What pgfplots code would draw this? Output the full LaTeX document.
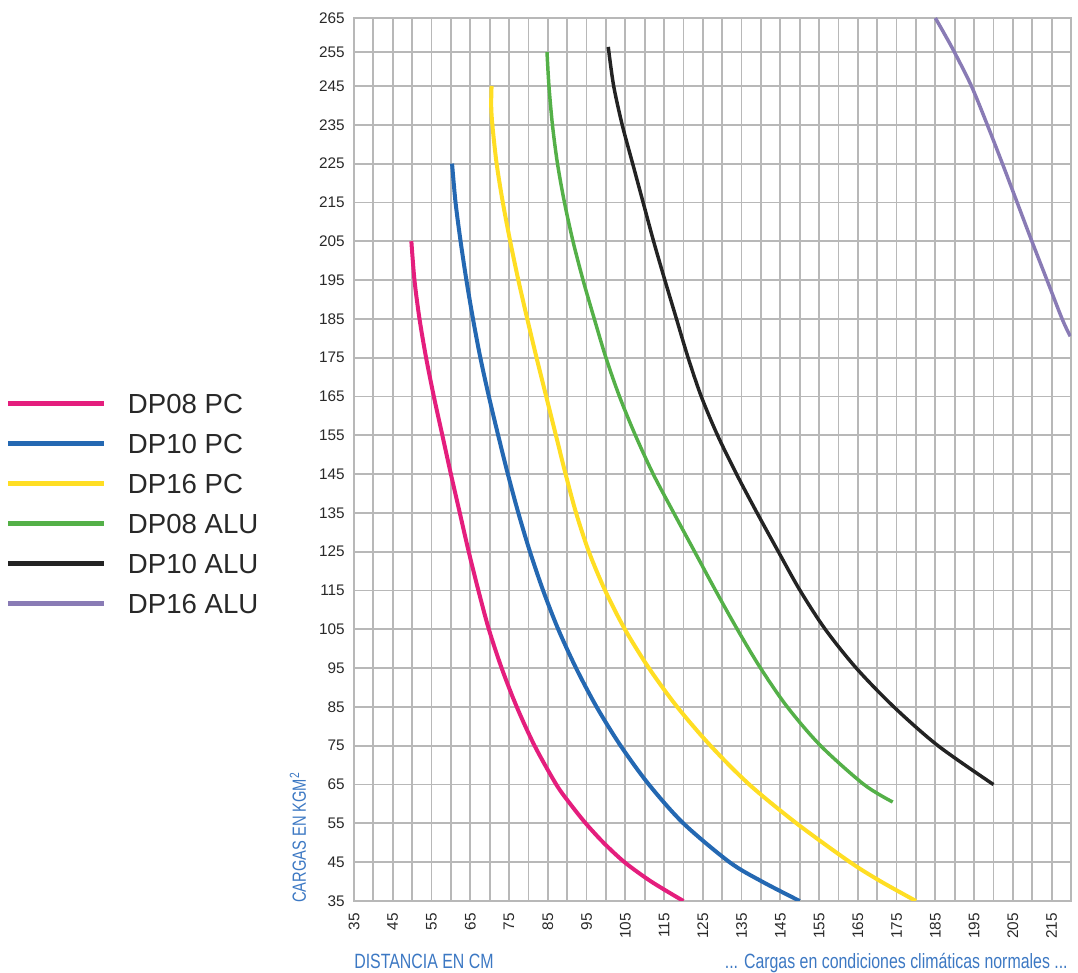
\documentclass[border=0pt]{standalone}
\usepackage{fontspec}
\setmainfont{Liberation Sans}
\newfontfamily\condfont[FakeStretch=0.77]{Liberation Sans}
\usepackage{pgfplots}
\pgfplotsset{compat=1.18}
\definecolor{cpink}{RGB}{228,30,125}
\definecolor{cblue}{RGB}{36,104,178}
\definecolor{cyellow}{RGB}{255,222,35}
\definecolor{cgreen}{RGB}{84,176,72}
\definecolor{cblack}{RGB}{35,35,35}
\definecolor{cpurple}{RGB}{137,123,181}
\definecolor{gridgray}{RGB}{184,184,184}
\definecolor{tickgray}{RGB}{40,40,40}
\definecolor{labelblue}{RGB}{60,120,195}
\begin{document}
\begin{tikzpicture}
\begin{axis}[
  at={(0,0)}, anchor=south west,
  scale only axis, width=537.75pt, height=662.25pt,
  clip mode=individual,
  xmin=35, xmax=220, ymin=35, ymax=265,
  y coord trafo/.code={\pgfmathparse{#1>245 ? 245+(#1-245)*0.876 : #1}},
  y coord inv trafo/.code={\pgfmathparse{#1>245 ? 245+(#1-245)/0.876 : #1}},
  xtick={35,45,...,215}, minor x tick num=1,
  ytick={35,45,55,65,75,85,95,105,115,125,135,145,155,165,175,185,195,205,215,225,235,245,255,265},
  yticklabels={35,45,55,65,75,85,95,105,115,125,135,145,155,165,175,185,195,205,215,225,235,245,255,265},
  xmajorgrids, xminorgrids, ymajorgrids,
  grid style={draw=gridgray, line width=1.35pt},
  minor grid style={draw=gridgray, line width=1.35pt},
  axis line style={draw=gridgray, line width=1.35pt},
  major tick length=0pt, minor tick length=0pt,
  tick style={draw=none},
  tick label style={font=\fontsize{11.5}{13}\selectfont, text=tickgray, inner sep=0pt},
  /pgf/number format/assume math mode=true,
  /pgf/number format/1000 sep={},
  xticklabel style={rotate=90, anchor=east},
  xticklabel shift=9pt, yticklabel shift=6.75pt,
  xlabel={DISTANCIA EN CM},
  xlabel style={at={(axis description cs:0,-0.0770)}, anchor=base west, inner sep=0pt, font=\condfont\fontsize{15.5}{18}\selectfont, text=labelblue},
  ylabel={CARGAS EN KGM\textsuperscript{2}},
  ylabel style={at={(axis description cs:-0.06695,-0.0023)}, anchor=base west, inner sep=0pt, font=\condfont\fontsize{14.3}{17}\selectfont, text=labelblue},
  legend style={at={(axis description cs:-0.48536,0.5753)}, anchor=north west, draw=none, fill=none, inner sep=0pt, outer sep=0pt, row sep=15pt, column sep=15.75pt, font=\fontsize{20.7}{24}\selectfont, text=tickgray, nodes={inner sep=0pt, text height=15pt, text depth=0pt}},
  legend cell align=left,
  legend image code/.code={\draw[#1, line width=3.75pt] (0pt,0pt) -- (72pt,0pt);},
]
\addplot[cpink, line width=3pt, smooth] coordinates {
(49.8,205) (50.6,195) (51.9,185) (53.6,175) (55.6,165) (57.8,155) (60.0,145) (62.3,135) (64.6,125) (67.1,115) (69.8,105) (73.1,95) (77.0,85) (81.6,75) (87.2,65) (90.8,60) (94.8,55) (99.4,50) (104.8,45) (111.7,40) (120,35)};
\addlegendentry{DP08 PC}
\addplot[cblue, line width=3pt, smooth] coordinates {
(60.3,225) (61.2,215) (62.5,205) (64.0,195) (65.7,185) (67.6,175) (69.8,165) (72.2,155) (74.7,145) (77.4,135) (80.4,125) (83.8,115) (87.7,105) (92.3,95) (97.6,85) (103.8,75) (111.1,65) (120.0,55) (131.9,45) (140.3,40) (150,35)};
\addlegendentry{DP10 PC}
\addplot[cyellow, line width=3pt, smooth] coordinates {
(70.5,245) (70.4,240) (70.7,235) (71.8,225) (73.4,215) (75.3,205) (77.4,195) (79.7,185) (82.1,175) (84.6,165) (87.1,155) (89.6,145) (92.3,135) (95.6,125) (99.8,115) (104.9,105) (111.1,95) (118.4,85) (127.0,75) (137.0,65) (149.2,55) (163.0,45) (171.0,40) (180,35)};
\addlegendentry{DP16 PC}
\addplot[cgreen, line width=2.6pt, smooth] coordinates {
(84.8,255) (85.3,245) (86.2,235) (87.5,225) (89.3,215) (91.5,205) (94.1,195) (97.0,185) (100.0,175) (103.5,165) (107.6,155) (112.2,145) (117.5,135) (122.9,125) (128.3,115) (133.9,105) (139.9,95) (146.8,85) (155.4,75) (166.6,65) (174.0,60.5)};
\addlegendentry{DP08 ALU}
\addplot[cblack, line width=2.6pt, smooth] coordinates {
(100.6,256.5) (102.0,245) (104.2,235) (106.9,225) (109.6,215) (112.3,205) (115.2,195) (118.2,185) (121.2,175) (124.6,165) (128.8,155) (133.7,145) (139.0,135) (144.5,125) (150.1,115) (156.6,105) (164.6,95) (174.3,85) (185.7,75) (200,65)};
\addlegendentry{DP10 ALU}
\addplot[cpurple, line width=2.6pt, smooth] coordinates {
(185,265) (187.5,260) (189.9,255) (194.3,245) (198.4,235) (202.3,225) (206.1,215) (209.9,205) (213.8,195) (217.7,185) (219.8,180.5)};
\addlegendentry{DP16 ALU}
\node[anchor=base east, inner sep=0pt, font=\condfont\fontsize{15.5}{18}\selectfont, text=labelblue] at (axis description cs:0.9958,-0.0770) {... Cargas en condiciones climáticas normales ...};
\end{axis}
\pgfresetboundingbox
\useasboundingbox (-265.5pt,-54pt) rectangle (543pt,675.75pt);
\end{tikzpicture}
\end{document}
